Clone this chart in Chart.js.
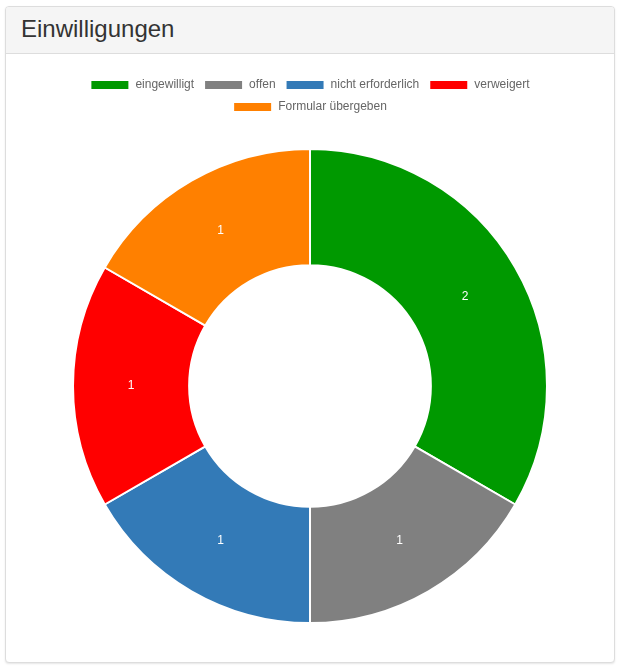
<!DOCTYPE html>
<html>
<head>
<meta charset="utf-8">
<script src="https://cdn.jsdelivr.net/npm/chart.js@4/dist/chart.umd.min.js"></script>
<style>
  body { margin: 0; background: #fff; font-family: "Liberation Sans", Helvetica, Arial, sans-serif; }
  .panel {
    position: absolute; left: 5px; top: 6px; width: 608px; height: 655px;
    border: 1px solid #ddd; border-radius: 4px; box-shadow: 0 1px 2px rgba(0,0,0,.1);
    background: #fff;
  }
  .panel-heading {
    height: 47px; background: #f5f5f5; border-bottom: 1px solid #ddd;
    border-radius: 3px 3px 0 0; box-sizing: border-box; padding: 0 15px;
  }
  .panel-heading h3 {
    margin: 0; font-size: 24px; font-weight: 500; color: #333; line-height: 44px;
  }
  .chart-box { position: absolute; left: 66px; top: 62px; width: 476px; height: 580px; }
</style>
</head>
<body>
<div class="panel">
  <div class="panel-heading"><h3>Einwilligungen</h3></div>
  <div class="chart-box"><canvas id="consent-chart"></canvas></div>
</div>
<script>
const labels = ['eingewilligt', 'offen', 'nicht erforderlich', 'verweigert', 'Formular übergeben'];
const counts = [2, 1, 1, 1, 1];
const colors = ['#009900', '#808080', '#337ab7', '#ff0000', '#ff8000'];

// write the value in the middle of each slice
const sliceValues = {
  id: 'sliceValues',
  afterDatasetsDraw(chart) {
    const ctx = chart.ctx;
    const meta = chart.getDatasetMeta(0);
    ctx.save();
    ctx.fillStyle = '#fff';
    ctx.font = '12px "Liberation Sans", Helvetica, Arial, sans-serif';
    ctx.textAlign = 'center';
    ctx.textBaseline = 'middle';
    meta.data.forEach((arc, i) => {
      const pos = arc.tooltipPosition();
      ctx.fillText(String(counts[i]), pos.x, pos.y);
    });
    ctx.restore();
  }
};

new Chart(document.getElementById('consent-chart'), {
  type: 'doughnut',
  data: {
    labels: labels,
    datasets: [{
      data: counts,
      backgroundColor: colors,
      borderColor: '#fff',
      borderWidth: 2
    }]
  },
  options: {
    responsive: true,
    maintainAspectRatio: false,
    animation: false,
    cutout: '51%',
    plugins: {
      legend: {
        labels: {
          boxWidth: 39,
          boxHeight: 10,
          color: '#666',
          font: { size: 12, family: '"Liberation Sans", Helvetica, Arial, sans-serif' }
        }
      },
      tooltip: { enabled: false }
    }
  },
  plugins: [sliceValues]
});
</script>
</body>
</html>
